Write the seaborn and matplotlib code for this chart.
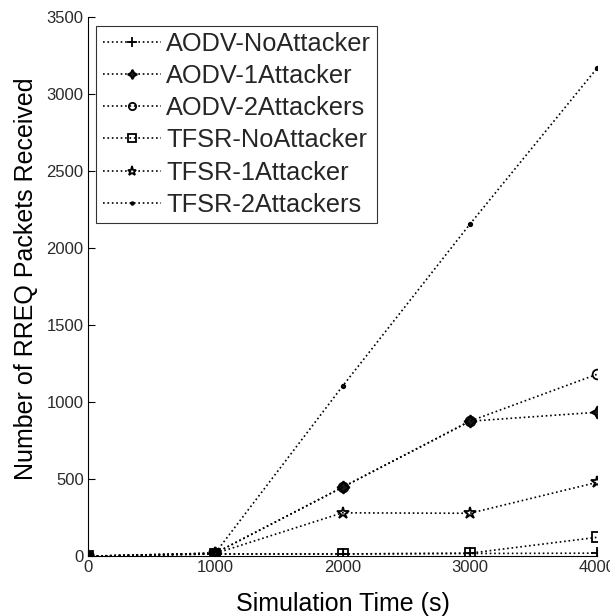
import matplotlib
matplotlib.use("Agg")
import matplotlib.pyplot as plt
import seaborn as sns
import pandas as pd

sns.set_theme(style="white")
plt.rcParams['font.family'] = ['Liberation Sans', 'DejaVu Sans']

time_s = [0, 1000, 2000, 3000, 4000]
series_names = ["AODV-NoAttacker", "AODV-1Attacker", "AODV-2Attackers",
                "TFSR-NoAttacker", "TFSR-1Attacker", "TFSR-2Attackers"]
aodv_no = [0, 15, 15, 18, 20]
aodv_1 = [0, 20, 448, 877, 935]
aodv_2 = [0, 20, 448, 877, 1182]
tfsr_no = [0, 15, 15, 20, 123]
tfsr_1 = [0, 18, 282, 279, 480]
tfsr_2 = [0, 20, 1104, 2156, 3170]
all_values = [aodv_no, aodv_1, aodv_2, tfsr_no, tfsr_1, tfsr_2]

markers = ['+', (4, 1, 0), 'o', 's', '*', '.']
fills = ['k', 'k', 'none', 'none', 'none', 'k']
msizes = [9, 9, 7, 7, 9, 5]

fig = plt.figure(figsize=(6.10, 6.16), dpi=100)
ax = fig.add_axes([0.144, 0.097, 0.835, 0.875])

for name, vals, mk, fc, ms in zip(series_names, all_values, markers, fills, msizes):
    df = pd.DataFrame({"t": time_s, "v": vals})
    sns.lineplot(data=df, x="t", y="v", ax=ax, color="black", linestyle=":",
                 linewidth=1.2, marker=mk, markersize=ms, markerfacecolor=fc,
                 markeredgecolor="black", markeredgewidth=1.3, label=name)

ax.set_xlim(0, 4000)
ax.set_ylim(0, 3500)
ax.set_xticks([0, 1000, 2000, 3000, 4000])
ax.set_yticks(range(0, 3501, 500))
ax.tick_params(direction="in", length=5, width=0.8, colors="black",
               labelsize=12, labelcolor="#2a2a2a", left=True, bottom=True, pad=3)
ax.spines['top'].set_visible(False)
ax.spines['right'].set_visible(False)
for s in ['left', 'bottom']:
    ax.spines[s].set_color('black')
    ax.spines[s].set_linewidth(0.8)
ax.set_xlabel("Simulation Time (s)", fontsize=18, color="black", labelpad=12)
ax.set_ylabel("Number of RREQ Packets Received", fontsize=18, color="black", labelpad=6)
ax.yaxis.label.set_y(0.515)
ax.grid(False)

leg = ax.legend(loc="upper left", fontsize=18.3, frameon=True, fancybox=False,
                edgecolor="black", handlelength=2.3, handletextpad=0.2,
                borderpad=0.25, labelspacing=0.32, borderaxespad=0.33,
                markerscale=0.75)
leg.get_frame().set_linewidth(0.8)

fig.savefig("out.png", dpi=100, facecolor="white")
